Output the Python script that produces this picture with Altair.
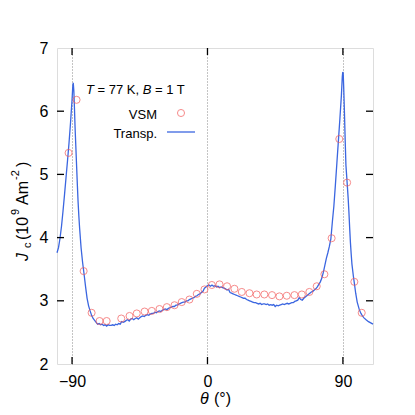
import altair as alt
import pandas as pd

# Transport (line) data: angle (deg), Jc (1e9 A/m^2)
transp_theta = [-100, -99, -98, -97, -96, -95, -94, -93, -92, -91, -90, -89.5, -89.2, -88.8, -88.4, -88,
                -87.5, -87, -86.5, -86, -85.5, -85, -84, -83, -82, -81, -80, -79, -78, -77, -76, -75,
                -74, -73, -72, -71, -70, -69, -68, -67, -66, -65, -64, -63, -62, -61, -60, -59, -58,
                -57, -56, -55, -54, -53, -52, -51, -50, -49, -48, -47, -46, -45, -44, -43, -42, -41,
                -40, -39, -38, -37, -36, -35, -34, -33, -32, -31, -30, -29, -28, -27, -26, -25, -24,
                -23, -22, -21, -20, -19, -18, -17, -16, -15, -14, -13, -12, -11, -10, -9, -8, -7, -6,
                -5, -4, -3, -2, -1, 0, 1, 2, 3, 4, 5, 6, 7, 8, 9, 10, 11, 12, 13, 14, 15, 16, 17, 18,
                19, 20, 21, 22, 23, 24, 25, 26, 27, 28, 29, 30, 31, 32, 33, 34, 35, 36, 37, 38, 39, 40,
                41, 42, 43, 44, 45, 46, 47, 48, 49, 50, 51, 52, 53, 54, 55, 56, 57, 58, 59, 60, 61, 62,
                63, 64, 65, 66, 67, 68, 69, 70, 71, 72, 73, 74, 75, 76, 77, 78, 79, 80, 81, 82, 83, 84,
                85, 86, 87, 88, 89, 89.6, 89.9, 90.2, 90.5, 91, 91.5, 92, 92.8, 93.5, 94, 94.5, 95, 95.5,
                96, 97, 97.6, 98.5, 99.5, 100.9, 102, 103, 104, 105.4, 107, 108.5, 110]
transp_jc = [3.76, 3.84, 3.99, 4.18, 4.42, 4.68, 4.95, 5.22, 5.50, 5.82, 6.18, 6.40, 6.45, 6.32, 6.05, 5.75,
             5.45, 5.15, 4.85, 4.57, 4.35, 4.16, 3.84, 3.61, 3.42, 3.22, 3.04, 2.92, 2.84, 2.77, 2.72, 2.69,
             2.66, 2.63, 2.64, 2.62, 2.63, 2.61, 2.62, 2.60, 2.62, 2.61, 2.61, 2.62, 2.61, 2.63, 2.62, 2.64, 2.63,
             2.67, 2.66, 2.67, 2.69, 2.70, 2.68, 2.71, 2.72, 2.70, 2.72, 2.73, 2.71, 2.73, 2.75, 2.76, 2.75, 2.77,
             2.78, 2.77, 2.79, 2.80, 2.80, 2.82, 2.81, 2.83, 2.84, 2.83, 2.85, 2.86, 2.87, 2.86, 2.88, 2.89, 2.90,
             2.91, 2.91, 2.93, 2.93, 2.95, 2.96, 2.97, 2.98, 2.98, 3.00, 3.00, 3.02, 3.03, 3.04, 3.05, 3.07, 3.08, 3.10,
             3.11, 3.13, 3.15, 3.20, 3.22, 3.24, 3.25, 3.23, 3.25, 3.23, 3.24, 3.22, 3.23, 3.21, 3.22, 3.21, 3.20, 3.19, 3.17, 3.18, 3.13, 3.12, 3.11, 3.10,
             3.09, 3.08, 3.07, 3.06, 3.05, 3.04, 3.04, 3.02, 3.01, 3.00, 2.99, 2.98, 2.97, 2.97, 2.96, 2.95, 2.96, 2.94, 2.95, 2.95, 2.94, 2.95,
             2.93, 2.94, 2.93, 2.94, 2.91, 2.93, 2.92, 2.93, 2.94, 2.95, 2.94, 2.95, 2.96, 2.95, 2.96, 2.97, 2.97, 2.99, 3.00, 3.01, 3.05, 3.02,
             3.01, 3.04, 3.06, 3.08, 3.10, 3.12, 3.14, 3.15, 3.17, 3.19, 3.22, 3.26, 3.30, 3.36, 3.45, 3.56, 3.67, 3.76, 3.86, 3.98, 4.25, 4.50,
             4.83, 5.18, 5.53, 5.88, 6.25, 6.55, 6.62, 6.60, 6.40, 6.00, 5.55, 5.15, 4.87, 4.62, 4.40, 4.15, 3.92, 3.74,
             3.58, 3.38, 3.28, 3.12, 2.98, 2.86, 2.80, 2.76, 2.73, 2.70, 2.67, 2.65, 2.63]

# VSM (circles) data
vsm_theta = [-92.3, -87, -82.3, -77, -71.7, -67, -57.3, -51.8, -47, -41.8, -37, -31.9, -27, -21.9, -17.1,
             -12, -7.1, -2, 2.9, 8, 13, 17.9, 22.8, 27.9, 32.7, 37.8, 42.9, 47.8, 52.7, 57.8, 62.7, 67.7,
             72.6, 77.7, 82.5, 87.6, 92.8, 97.6, 102.5]
vsm_jc = [5.34, 6.18, 3.47, 2.81, 2.68, 2.68, 2.72, 2.76, 2.80, 2.83, 2.84, 2.87, 2.90, 2.93, 2.98,
          3.02, 3.11, 3.18, 3.25, 3.26, 3.23, 3.19, 3.14, 3.12, 3.10, 3.10, 3.09, 3.07, 3.08, 3.09, 3.10, 3.14,
          3.23, 3.42, 3.99, 5.56, 4.87, 3.30, 2.81]

x_ticks = [-90, 0, 90]
y_ticks = [2, 3, 4, 5, 6, 7]
y_inner_ticks = [3, 4, 5, 6]

W, H = 316, 316
FONT = "Liberation Sans"
BLUE = "#3b66e0"
RED = "#f45a5a"
PT_SIZE = 50

xs = alt.Scale(domain=[-100, 110], nice=False, zero=False)
ys = alt.Scale(domain=[2, 7], nice=False, zero=False)

x_axis = alt.Axis(values=x_ticks, title=None, ticks=False, domain=False, labelFontSize=16,
                  labelPadding=9, labelFont=FONT, labelColor="black", grid=True, format="d",
                  gridDash=[1, 2], gridColor="#888888", gridWidth=1)
y_axis = alt.Axis(values=y_ticks, title=None, ticks=False, domain=False, labelFontSize=16,
                  labelPadding=9, labelFont=FONT, labelColor="black", grid=False, format="d")

tdf = pd.DataFrame({"theta": transp_theta, "jc": transp_jc})
vdf = pd.DataFrame({"theta": vsm_theta, "jc": vsm_jc})
xt = pd.DataFrame({"theta": x_ticks})
yt = pd.DataFrame({"jc": y_inner_ticks})

line = alt.Chart(tdf).mark_line(color=BLUE, strokeWidth=1.3).encode(
    x=alt.X("theta:Q", scale=xs, axis=x_axis),
    y=alt.Y("jc:Q", scale=ys, axis=y_axis),
    order="theta:Q",
)
pts = alt.Chart(vdf).mark_point(shape="circle", filled=False, color=RED, size=PT_SIZE, strokeWidth=1).encode(
    x=alt.X("theta:Q", scale=xs),
    y=alt.Y("jc:Q", scale=ys),
)

tick_style = dict(color="black", strokeWidth=1.3)
xt_bot = alt.Chart(xt).mark_rule(**tick_style).encode(
    x=alt.X("theta:Q", scale=xs), y=alt.value(H), y2=alt.value(H - 7))
xt_top = alt.Chart(xt).mark_rule(**tick_style).encode(
    x=alt.X("theta:Q", scale=xs), y=alt.value(0), y2=alt.value(7))
yt_l = alt.Chart(yt).mark_rule(**tick_style).encode(
    y=alt.Y("jc:Q", scale=ys), x=alt.value(0), x2=alt.value(7))
yt_r = alt.Chart(yt).mark_rule(**tick_style).encode(
    y=alt.Y("jc:Q", scale=ys), x=alt.value(W - 7), x2=alt.value(W))


def txt(s, x, y, size=13, style="normal", align="left", angle=0):
    return alt.Chart(pd.DataFrame({"t": [s]})).mark_text(
        font=FONT, fontSize=size, fontStyle=style, align=align, baseline="alphabetic",
        angle=angle, color="black"
    ).encode(text="t:N", x=alt.value(x), y=alt.value(y))


# annotation / legend
texts = [
    txt("T", 29, 45.5, style="italic"),
    txt("= 77 K,", 40.5, 45.5),
    txt("B", 85.7, 45.5, style="italic"),
    txt("= 1 T", 98, 45.5),
    txt("VSM", 100, 70.5, align="right"),
    txt("Transp.", 100, 89.5, align="right"),
]
leg_pt = alt.Chart(pd.DataFrame({"a": [0]})).mark_point(
    shape="circle", filled=False, color=RED, size=PT_SIZE, strokeWidth=1
).encode(x=alt.value(124), y=alt.value(65))
leg_line = alt.Chart(pd.DataFrame({"a": [0]})).mark_rule(color=BLUE, strokeWidth=1.3).encode(
    x=alt.value(110), x2=alt.value(138), y=alt.value(84))

# y-axis title (rotated): J_c (10^9 Am^-2)
ytitle = [
    txt("J", -29, 261 - 48, size=16, style="italic", angle=270),
    txt("c", -26.5, 248 - 48, size=11, angle=270),
    txt("(10", -29, 240 - 48, size=16, angle=270),
    txt("9", -38.5, 215 - 48, size=11, angle=270),
    txt("Am", -29, 205 - 48, size=16, angle=270),
    txt("-2", -38.5, 180 - 48, size=11, angle=270),
    txt(")", -29, 167 - 48, size=16, angle=270),
]
# x-axis title: theta (deg)
xtitle = [
    txt("θ", 143, 356, size=16, style="italic"),
    txt("(°)", 157, 356, size=16),
]

chart = alt.layer(line, pts, xt_bot, xt_top, yt_l, yt_r, leg_pt, leg_line, *texts, *ytitle, *xtitle).properties(
    width=W, height=H,
    autosize=alt.AutoSizeParams(type="none"),
    padding={"left": 49, "top": 40, "right": 34, "bottom": 43},
).configure_view(stroke="black", strokeWidth=1.5).configure(background="white")

chart.save("out.html", embed_options={"renderer": "svg", "actions": False})
